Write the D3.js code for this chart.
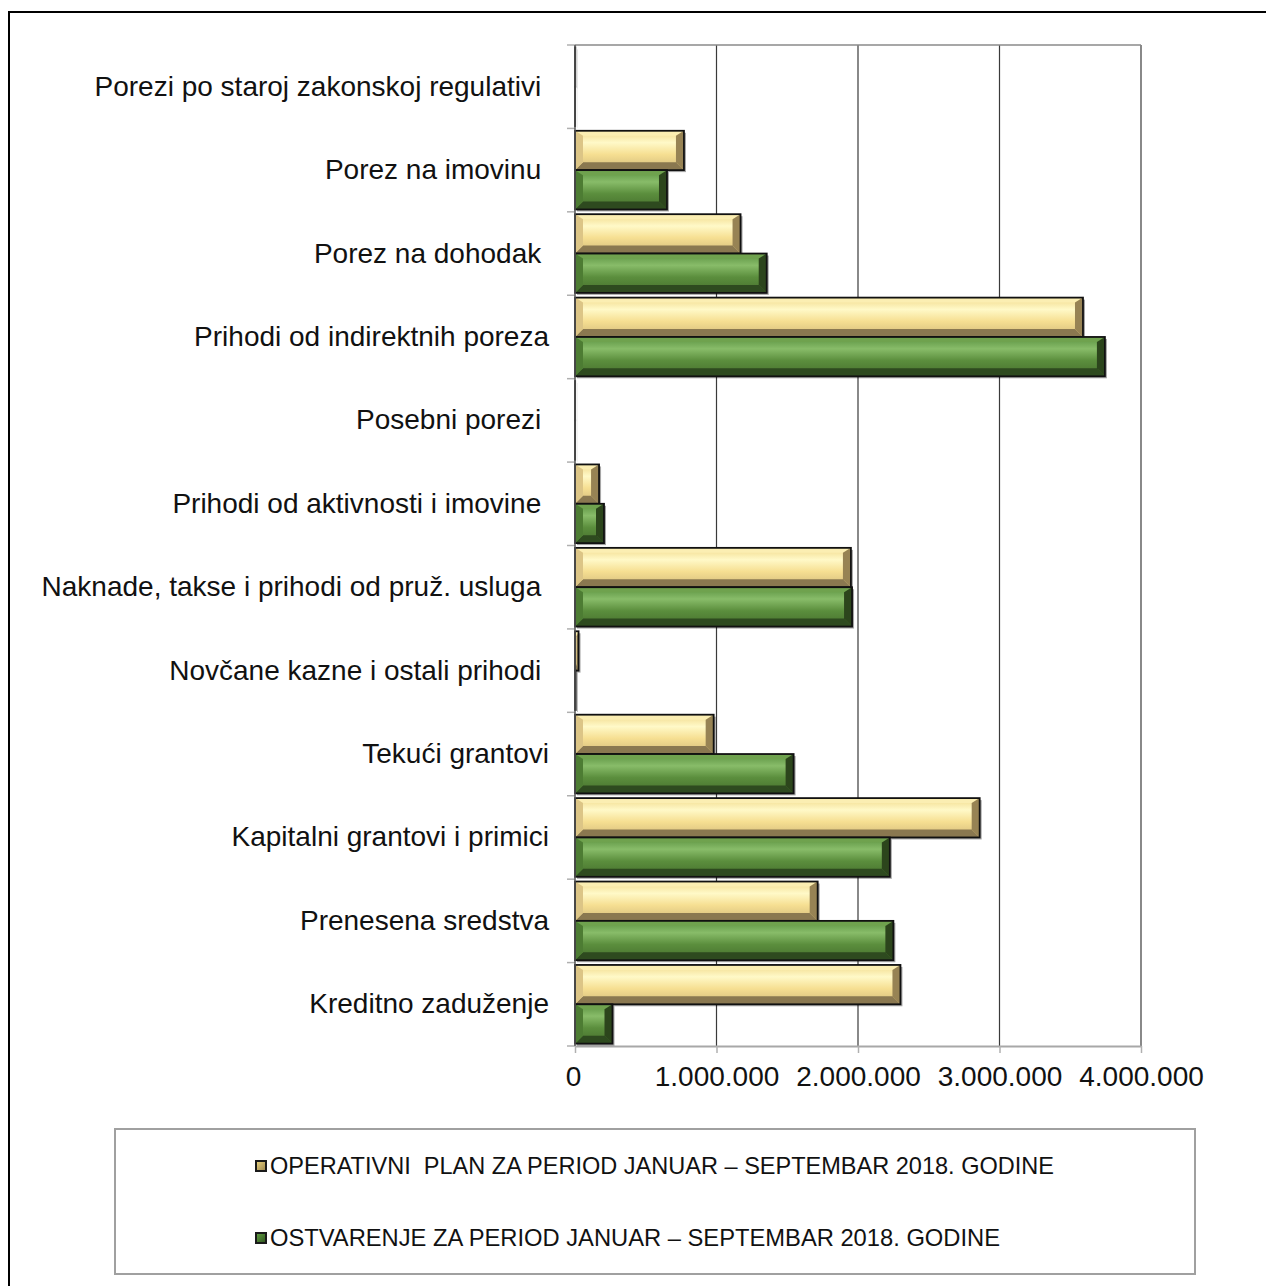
<!DOCTYPE html>
<html>
<head>
<meta charset="utf-8">
<script src="https://cdn.jsdelivr.net/npm/d3@7"></script>
<style>
  body { margin: 0; background: #fff; }
  text { font-family: "Liberation Sans", Arial, sans-serif; fill: #111; white-space: pre; }
</style>
</head>
<body>
<div class="chart-container"></div>
<script>
// categories, top to bottom (trailing spaces are as in the original labels)
const categories = [
  "Porezi po staroj zakonskoj regulativi ",
  "Porez na imovinu ",
  "Porez na dohodak ",
  "Prihodi od indirektnih poreza",
  "Posebni porezi ",
  "Prihodi od aktivnosti i imovine ",
  "Naknade, takse i prihodi od pruž. usluga ",
  "Novčane kazne i ostali prihodi ",
  "Tekući grantovi",
  "Kapitalni grantovi i primici",
  "Prenesena sredstva",
  "Kreditno zaduženje"
];

// operativni plan (yellow)
const planValues = [2000, 770000, 1170000, 3590000, 1000, 170000, 1950000, 25000, 980000, 2860000, 1715000, 2300000];
// ostvarenje (green)
const actualValues = [1000, 650000, 1355000, 3745000, 1000, 205000, 1958000, 5000, 1545000, 2225000, 2250000, 265000];

const xTicks = [0, 1000000, 2000000, 3000000, 4000000];

const seriesNames = [
  "OPERATIVNI  PLAN ZA PERIOD JANUAR \u2013 SEPTEMBAR 2018. GODINE",
  "OSTVARENJE ZA PERIOD JANUAR \u2013 SEPTEMBAR 2018. GODINE"
];
const seriesKeys = ["plan", "actual"];

svg = d3.select(".chart-container").append("svg").attr("width", 1266).attr("height", 1286)

// outer frame
svg.append("rect").attr("x", 9).attr("y", 12).attr("width", 1300).attr("height", 1300)
  .attr("fill", "none").attr("stroke", "#000").attr("stroke-width", 2)

// gradients for the bevelled bars
const defs = svg.append("defs")
const looks = {
  plan: {
    face: [[0, "#f1d98a"], [0.3, "#fff9c8"], [0.6, "#f6df92"], [1, "#d2ba7a"]],
    top: "#fbeeb2", bottom: "#8a7850", left: "#dcc586", right: "#978354",
    key: ["#e6cf7c", "#a08a52"]
  },
  actual: {
    face: [[0, "#5a9140"], [0.3, "#88bc69"], [0.6, "#5b8e3d"], [1, "#466f2d"]],
    top: "#6fa24e", bottom: "#2e4a1f", left: "#4d7c33", right: "#2c451c",
    key: ["#5f9a40", "#335a22"]
  }
}
seriesKeys.forEach(k => {
  const g = defs.append("linearGradient").attr("id", "face-" + k)
    .attr("x1", 0).attr("y1", 0).attr("x2", 0).attr("y2", 1)
  looks[k].face.forEach(s => g.append("stop").attr("offset", s[0]).attr("stop-color", s[1]))
  const kg = defs.append("linearGradient").attr("id", "key-" + k)
    .attr("x1", 0).attr("y1", 0).attr("x2", 1).attr("y2", 1)
  kg.append("stop").attr("offset", 0).attr("stop-color", looks[k].key[0])
  kg.append("stop").attr("offset", 1).attr("stop-color", looks[k].key[1])
})

// scales
const x = d3.scaleLinear().domain([0, 4000000]).range([575, 1141])
const y = d3.scaleBand().domain(categories).range([45, 1046])
const ySub = d3.scaleBand().domain(seriesKeys).range([0, y.bandwidth()]).paddingInner(0).paddingOuter(0.06)

// gridlines
svg.append("g").selectAll("line").data(xTicks.slice(1)).enter().append("line")
  .attr("x1", d => x(d)).attr("x2", d => x(d)).attr("y1", 45).attr("y2", 1046)
  .attr("stroke", "#3a3a3a").attr("stroke-width", 1.2)

// plot area top border
svg.append("line").attr("x1", x(0)).attr("x2", x(4000000)).attr("y1", 45).attr("y2", 45)
  .attr("stroke", "#8a8a8a").attr("stroke-width", 1.5)

// bottom axis
const fmt = d3.formatLocale({ decimal: ",", thousands: ".", grouping: [3], currency: ["", ""] }).format(",")
xAxis = d3.axisBottom(x).tickValues(xTicks).tickFormat(fmt).tickSize(7).tickSizeOuter(0).tickPadding(13)
axisSvg = svg.append("g").attr("transform", "translate(0,1046)").call(xAxis)
axisSvg.select(".domain").attr("stroke", "#a8a8a8").attr("stroke-width", 2)
axisSvg.selectAll(".tick line").attr("stroke", "#b0b0b0").attr("stroke-width", 1.5)
axisSvg.selectAll(".tick text").attr("font-size", 28).attr("fill", "#111")
  .attr("font-family", "Liberation Sans, Arial, sans-serif")
axisSvg.selectAll(".tick text").filter(d => d === 0).attr("dx", -2)

// left axis: labels centred in the band, ticks on band edges
yAxis = d3.axisLeft(y).tickSize(0).tickPadding(26)
leftSvg = svg.append("g").attr("transform", "translate(575,0)").call(yAxis)
leftSvg.select(".domain").remove()
leftSvg.selectAll(".tick text").attr("font-size", 28).attr("fill", "#111")
  .attr("font-family", "Liberation Sans, Arial, sans-serif").style("white-space", "pre")

const edges = categories.map(c => y(c)).concat([y.range()[1]])
svg.append("g").selectAll("line").data(edges).enter().append("line")
  .attr("x1", 567).attr("x2", 575).attr("y1", d => d).attr("y2", d => d)
  .attr("stroke", "#b0b0b0").attr("stroke-width", 1.5)

// bars
const rows = []
categories.forEach((c, i) => {
  rows.push({ cat: c, key: "plan", value: planValues[i] })
  rows.push({ cat: c, key: "actual", value: actualValues[i] })
})

function drawBevel(g, w, h, look, faceId) {
  const bs = Math.max(0, Math.min(8, w / 2))
  const bt = Math.max(0, Math.min(5, h / 3))
  const bb = Math.max(0, Math.min(8, h / 3))
  g.append("rect").attr("x", 2).attr("y", 2).attr("width", w).attr("height", h)
    .attr("fill", "#000").attr("opacity", 0.35)
  g.append("rect").attr("x", 0).attr("y", 0).attr("width", w).attr("height", h)
    .attr("fill", "url(#" + faceId + ")")
  const polys = [
    [[0, 0], [w, 0], [w - bs, bt], [bs, bt], look.top],
    [[0, h], [w, h], [w - bs, h - bb], [bs, h - bb], look.bottom],
    [[0, 0], [bs, bt], [bs, h - bb], [0, h], look.left],
    [[w, 0], [w - bs, bt], [w - bs, h - bb], [w, h], look.right]
  ]
  polys.forEach(p => g.append("polygon").attr("points", p.slice(0, 4).map(q => q.join(",")).join(" ")).attr("fill", p[4]))
  g.append("rect").attr("x", 0).attr("y", 0).attr("width", w).attr("height", h)
    .attr("fill", "none").attr("stroke", "#111").attr("stroke-width", 1.8)
}

bar = svg.append("g").selectAll("g").data(rows).enter().append("g")
  .attr("transform", d => "translate(" + x(0) + "," + (y(d.cat) + ySub(d.key)) + ")")
bar.each(function (d) {
  const w = x(d.value) - x(0)
  drawBevel(d3.select(this), w, ySub.bandwidth(), looks[d.key], "face-" + d.key)
})

// vertical category axis line on top of bar edges
svg.append("line").attr("x1", 575).attr("x2", 575).attr("y1", 45).attr("y2", 1046)
  .attr("stroke", "#555").attr("stroke-width", 1.5)

// legend
svg.append("rect").attr("x", 115).attr("y", 1129).attr("width", 1080).attr("height", 145)
  .attr("fill", "#fff").attr("stroke", "#a0a0a0").attr("stroke-width", 2)

const legY = d3.scalePoint().domain(seriesKeys).range([1166, 1238])
legend = svg.append("g").selectAll("g").data(seriesKeys).enter().append("g")
  .attr("transform", d => "translate(255," + legY(d) + ")")
legend.each(function (k) {
  const g = d3.select(this).append("g").attr("transform", "translate(0,-6)")
  g.append("rect").attr("x", 0).attr("y", 0).attr("width", 12).attr("height", 12).attr("fill", "#1a1a1a")
  g.append("rect").attr("x", 2).attr("y", 2).attr("width", 8).attr("height", 8)
    .attr("fill", "url(#key-" + k + ")")
})
legend.append("text").attr("x", 15).attr("y", 0).attr("dy", "0.35em")
  .attr("font-size", 23.4).attr("fill", "#222")
  .attr("textLength", (d, i) => [784, 730][i]).attr("lengthAdjust", "spacingAndGlyphs")
  .text((d, i) => seriesNames[i])
</script>
</body>
</html>
